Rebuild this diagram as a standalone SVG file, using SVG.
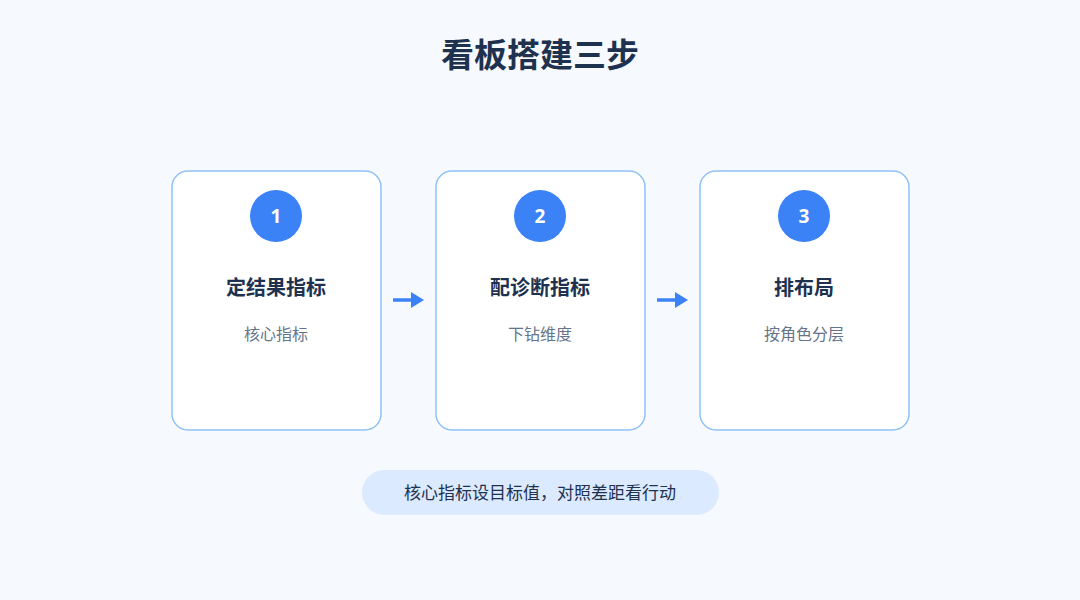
<svg xmlns="http://www.w3.org/2000/svg" width="1080" height="600" viewBox="0 0 1080 600">
<style>
.card{fill:#fff;stroke:#90c2f6;stroke-width:1.5}
.t{font-family:"Noto Sans CJK SC","Noto Sans",sans-serif;text-anchor:middle}
.h{font-size:20px;font-weight:bold;fill:#1e3250}
.s{font-size:16px;fill:#66748a}
.n{font-size:19px;font-weight:bold;fill:#fff;font-family:"Open Sans","Noto Sans",sans-serif;text-anchor:middle}
.c{fill:#3b82f6}
.a{stroke:#3b82f6;stroke-width:3.5;fill:none}
</style>
<defs><marker id="m" markerWidth="6" markerHeight="6" refX="5" refY="3" orient="auto" markerUnits="userSpaceOnUse" viewBox="0 0 6 6"><path d="M0,0 L6,3 L0,6Z" fill="#3b82f6"/></marker></defs>
<rect width="1080" height="600" fill="#f6f9fd"/>
<text class="t" x="540" y="67" font-size="33" font-weight="bold" fill="#1e3250">看板搭建三步</text>
<g id="n1"><rect class="card" x="172" y="171" width="209" height="259" rx="16"/><circle class="c" cx="276" cy="216" r="26"/><text class="n" x="276" y="223">1</text><text class="t h" x="276" y="295">定结果指标</text><text class="t s" x="276" y="340">核心指标</text></g>
<g id="n2"><rect class="card" x="436" y="171" width="209" height="259" rx="16"/><circle class="c" cx="540" cy="216" r="26"/><text class="n" x="540" y="223">2</text><text class="t h" x="540" y="295">配诊断指标</text><text class="t s" x="540" y="340">下钻维度</text></g>
<g id="n3"><rect class="card" x="700" y="171" width="209" height="259" rx="16"/><circle class="c" cx="804" cy="216" r="26"/><text class="n" x="804" y="223">3</text><text class="t h" x="804" y="295">排布局</text><text class="t s" x="804" y="340">按角色分层</text></g>
<g id="connectors">
<path class="a" d="M393,300 H418" marker-end="url(#m)"/>
<path class="a" d="M657,300 H682" marker-end="url(#m)"/>
<polygon points="411,292 424,300 411,308" fill="#3b82f6"/>
<polygon points="675,292 688,300 675,308" fill="#3b82f6"/>
</g>
<g id="note"><rect x="362" y="470" width="357" height="45" rx="22.5" fill="#dbeafe"/><text class="t" x="540" y="499" font-size="17" fill="#1e3250">核心指标设目标值，对照差距看行动</text></g>
</svg>
